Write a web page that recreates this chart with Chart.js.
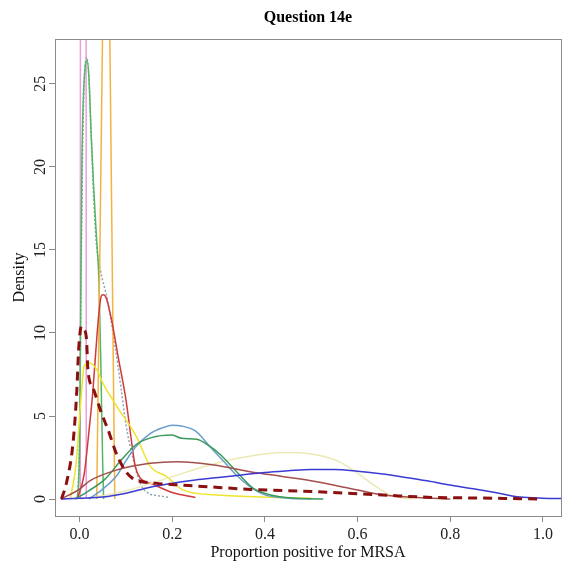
<!DOCTYPE html>
<html>
<head>
<meta charset="utf-8">
<script src="https://cdn.jsdelivr.net/npm/chart.js@4"></script>
<style>
  html, body { margin: 0; padding: 0; background: #fff; }
  #wrap { width: 569px; height: 568px; }
</style>
</head>
<body>
<div id="wrap"><canvas id="densityChart" width="569" height="568"></canvas></div>
<script>
// density curves (x = proportion, y = density)
var darkRedX = [-0.039, -0.028, -0.014, -0.006, -0.002, 0.004, 0.01, 0.015, 0.018, 0.029, 0.047, 0.061, 0.083, 0.112, 0.163, 0.22, 0.3, 0.37, 0.51, 0.655, 0.76, 0.87, 1.0];
var darkRedY = [0, 1.0, 3.4, 6.5, 9.0, 10.4, 10.2, 9.6, 7.8, 6.7, 5.2, 4.2, 2.5, 1.3, 0.96, 0.84, 0.7, 0.58, 0.44, 0.24, 0.1, 0.06, 0];

var pinkX = [0.0015, 0.002, 0.008, 0.014, 0.0145];
var pinkY = [0, 40, 90, 40, 0];

var orangeX = [0.037, 0.0505, 0.0575, 0.0645, 0.076];
var orangeY = [0, 30, 50, 30, 0];

var greenSpikeX = [-0.005, 0.0, 0.002, 0.005, 0.008, 0.012, 0.016, 0.02, 0.025, 0.03, 0.036, 0.042, 0.046, 0.05, 0.052];
var greenSpikeY = [0, 3, 10, 20, 24, 26, 26.4, 25.5, 22, 19, 16, 13, 8, 2, 0];

var grayX = [-0.004, 0.0, 0.003, 0.006, 0.01, 0.015, 0.02, 0.025, 0.03, 0.036, 0.045, 0.06, 0.075, 0.09, 0.1, 0.115, 0.13, 0.148, 0.17, 0.195];
var grayY = [0, 4, 12, 20, 25, 26.6, 25.5, 22, 18.5, 15.5, 13.8, 12, 9.5, 6.6, 4.5, 2.5, 1.0, 0.36, 0.2, 0.1];

var redX = [-0.005, 0.01, 0.02, 0.029, 0.038, 0.045, 0.05, 0.056, 0.069, 0.083, 0.1, 0.112, 0.12, 0.13, 0.158, 0.2, 0.25];
var redY = [0, 1.5, 4, 6.6, 10, 12, 12.3, 12.2, 10.8, 8.6, 6.0, 3.5, 2.0, 1.3, 0.9, 0.4, 0.1];

var yellowX = [-0.02, -0.008, 0.003, 0.01, 0.02, 0.037, 0.05, 0.08, 0.123, 0.152, 0.188, 0.223, 0.296, 0.425, 0.5];
var yellowY = [0, 2, 6, 8.0, 8.2, 7.8, 7.0, 5.6, 3.75, 2.0, 1.35, 0.55, 0.24, 0.1, 0.05];

var steelX = [0.02, 0.05, 0.08, 0.1, 0.12, 0.15, 0.18, 0.2, 0.22, 0.25, 0.28, 0.31, 0.34, 0.37, 0.4, 0.45, 0.5];
var steelY = [0, 0.6, 1.4, 2.3, 3.1, 3.9, 4.3, 4.45, 4.4, 4.1, 3.2, 2.3, 1.4, 0.7, 0.25, 0.05, 0];

var greenX = [-0.01, 0.02, 0.055, 0.09, 0.123, 0.155, 0.2, 0.22, 0.253, 0.28, 0.303, 0.339, 0.375, 0.433, 0.526];
var greenY = [0, 0.5, 1.2, 2.35, 3.3, 3.7, 3.85, 3.66, 3.6, 3.2, 2.7, 1.65, 0.64, 0.14, 0];

var brownX = [-0.04, 0.0, 0.022, 0.08, 0.152, 0.21, 0.29, 0.368, 0.44, 0.512, 0.584, 0.656, 0.728, 0.8];
var brownY = [0, 0.6, 1.1, 1.75, 2.15, 2.25, 2.05, 1.65, 1.35, 1.04, 0.64, 0.24, 0.1, 0];

var khakiX = [0.0, 0.05, 0.1, 0.15, 0.2, 0.25, 0.3, 0.35, 0.4, 0.45, 0.5, 0.53, 0.56, 0.6, 0.64, 0.67, 0.7, 0.72];
var khakiY = [0, 0.2, 0.5, 0.9, 1.35, 1.8, 2.2, 2.5, 2.72, 2.8, 2.72, 2.55, 2.25, 1.55, 0.75, 0.25, 0.05, 0];

var blueX = [-0.04, 0.0, 0.05, 0.1, 0.15, 0.2, 0.25, 0.3, 0.35, 0.4, 0.45, 0.5, 0.55, 0.6, 0.65, 0.7, 0.75, 0.8, 0.85, 0.9, 0.95, 1.0, 1.04];
var blueY = [0, 0.05, 0.12, 0.35, 0.7, 0.95, 1.15, 1.3, 1.45, 1.6, 1.7, 1.78, 1.78, 1.68, 1.52, 1.32, 1.1, 0.84, 0.62, 0.38, 0.12, 0.05, 0.03];

var xTicks = [0, 0.2, 0.4, 0.6, 0.8, 1.0];
var yTicks = [0, 5, 10, 15, 20, 25];

function pts(xs, ys) {
  var out = [];
  for (var i = 0; i < xs.length; i++) {
    out.push({ x: xs[i], y: ys[i] });
  }
  return out;
}

function line(data, color, width, dash) {
  return {
    data: data,
    borderColor: color,
    borderWidth: width,
    borderDash: dash || [],
    pointRadius: 0,
    fill: false,
    cubicInterpolationMode: "monotone"
  };
}

// dataset 0 ends up on top
var datasets = [
  line(pts(darkRedX, darkRedY), "#8B1010", 3, [9, 6]),
  line(pts(blueX, blueY), "#3B3BD4", 1.5),
  line(pts(brownX, brownY), "#A3504C", 1.5),
  line(pts(greenX, greenY), "#3C9A5C", 1.5),
  line(pts(steelX, steelY), "#6A9FCB", 1.5),
  line(pts(khakiX, khakiY), "#ECEAB4", 1.5),
  line(pts(yellowX, yellowY), "#EEE42E", 1.5),
  line(pts(redX, redY), "#D2383A", 1.5),
  line(pts(orangeX, orangeY), "#F2B341", 1.5),
  line(pts(greenSpikeX, greenSpikeY), "#55B565", 1.5),
  line(pts(grayX, grayY), "#8AA6AE", 1.5, [2, 2]),
  line(pts(pinkX, pinkY), "#E7A0DC", 1.5)
];

// frame, title and the upright y labels (R style)
var framePlugin = {
  id: "frame",
  afterDraw: function (chart) {
    var ctx = chart.ctx;
    var a = chart.chartArea;
    var ys = chart.scales.y;
    ctx.save();
    ctx.strokeStyle = "#8a8a8a";
    ctx.lineWidth = 1;
    ctx.strokeRect(a.left + 0.5, a.top + 0.5, a.right - a.left, a.bottom - a.top);
    ctx.fillStyle = "#000";
    ctx.font = "bold 16px 'Liberation Serif'";
    ctx.textAlign = "center";
    ctx.textBaseline = "middle";
    ctx.fillText("Question 14e", (a.left + a.right) / 2, 18);

    ctx.fillStyle = "#222";
    ctx.font = "16px 'Liberation Serif'";
    for (var i = 0; i < yTicks.length; i++) {
      var py = ys.getPixelForValue(yTicks[i]);
      ctx.save();
      ctx.translate(41, py);
      ctx.rotate(-Math.PI / 2);
      ctx.fillText(String(yTicks[i]), 0, 0);
      ctx.restore();
    }
    ctx.fillStyle = "#111";
    ctx.save();
    ctx.translate(20, (a.top + a.bottom) / 2);
    ctx.rotate(-Math.PI / 2);
    ctx.fillText("Density", 0, 0);
    ctx.restore();
    ctx.restore();
  }
};

var ctx = document.getElementById("densityChart").getContext("2d");
var chart = new Chart(ctx, {
  type: "line",
  data: { datasets: datasets },
  plugins: [framePlugin],
  options: {
    responsive: false,
    animation: false,
    events: [],
    layout: { padding: { top: 39, right: 8, left: 0, bottom: 0 } },
    plugins: { legend: { display: false }, tooltip: { enabled: false }, title: { display: false } },
    scales: {
      x: {
        type: "linear",
        min: -0.053,
        max: 1.039,
        afterBuildTicks: function (scale) {
          scale.ticks = xTicks.map(function (v) { return { value: v }; });
        },
        afterFit: function (scale) { scale.height = 52; },
        border: { display: false },
        grid: { drawOnChartArea: false, drawTicks: true, tickLength: 6, color: "#8a8a8a" },
        ticks: {
          color: "#222",
          font: { family: "'Liberation Serif'", size: 16 },
          padding: 3,
          maxRotation: 0,
          callback: function (v) { return v.toFixed(1); }
        },
        title: {
          display: true,
          text: "Proportion positive for MRSA",
          color: "#111",
          font: { family: "'Liberation Serif'", size: 16 },
          padding: { top: 0, bottom: 6 }
        }
      },
      y: {
        type: "linear",
        min: -1.02,
        max: 27.7,
        afterBuildTicks: function (scale) {
          scale.ticks = yTicks.map(function (v) { return { value: v }; });
        },
        afterFit: function (scale) { scale.width = 55; },
        border: { display: false },
        grid: { drawOnChartArea: false, drawTicks: true, tickLength: 6, color: "#8a8a8a" },
        ticks: { display: false },
        title: { display: false }
      }
    }
  }
});
</script>
</body>
</html>
